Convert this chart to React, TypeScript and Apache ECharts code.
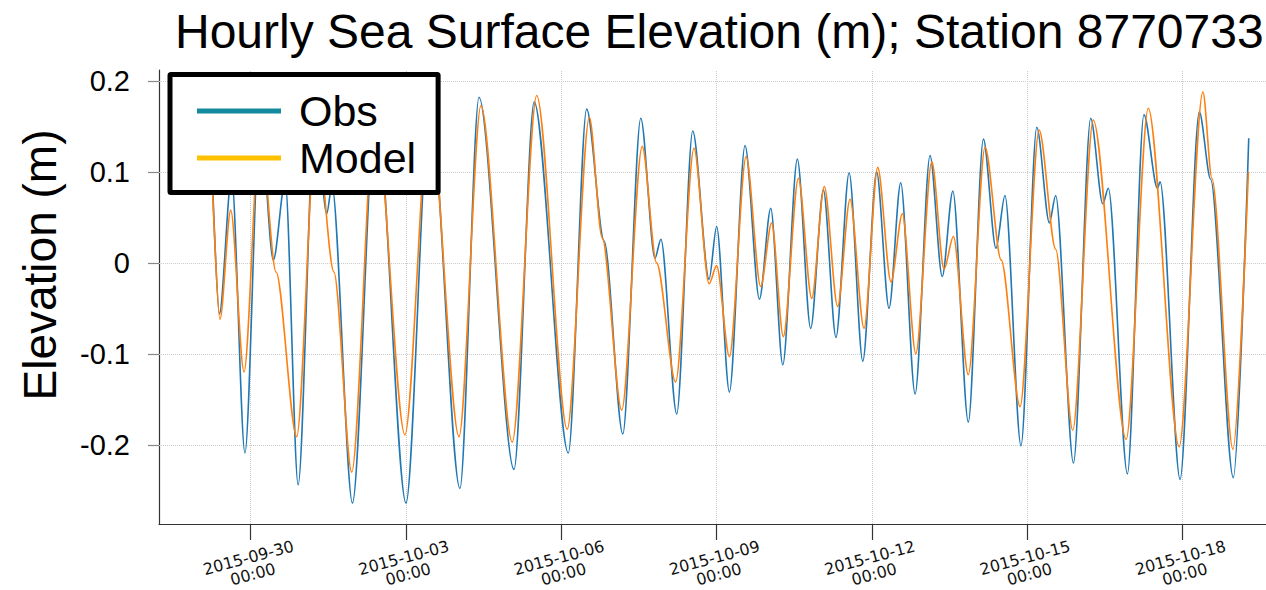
import React, { useEffect, useRef } from "react";
import * as echarts from "echarts";

const TITLE = "Hourly Sea Surface Elevation (m); Station 8770733";
const Y_NAME = "Elevation (m)";
const SERIES_NAMES = ["Obs", "Model"];

const obsTimes = [
  "09-29 05:50", "09-29 09:30", "09-29 15:10", "09-29 21:20", "09-30 04:20", "09-30 10:30",
  "09-30 16:00", "09-30 22:00", "10-01 05:50", "10-01 11:15", "10-01 13:40", "10-01 23:10",
  "10-02 10:05", "10-03 00:00", "10-03 11:05", "10-04 01:00", "10-04 09:50", "10-05 02:05",
  "10-05 11:25", "10-06 03:15", "10-06 11:45", "10-06 19:50", "10-07 04:30", "10-07 12:50",
  "10-07 19:25", "10-07 22:10", "10-08 05:30", "10-08 12:55", "10-08 20:30", "10-09 00:00",
  "10-09 05:55", "10-09 13:10", "10-09 19:50", "10-10 01:05", "10-10 06:40", "10-10 13:25",
  "10-10 19:35", "10-11 01:30", "10-11 07:20", "10-11 13:25", "10-11 19:45", "10-12 02:10",
  "10-12 07:55", "10-12 13:20", "10-12 20:00", "10-13 02:55", "10-13 08:35", "10-13 13:30",
  "10-13 20:40", "10-14 03:40", "10-14 09:30", "10-14 13:40", "10-14 21:05", "10-15 04:25",
  "10-15 10:15", "10-15 13:10", "10-15 21:25", "10-16 05:25", "10-16 11:00", "10-16 13:35",
  "10-16 22:25", "10-17 06:05", "10-17 12:20", "10-17 13:35", "10-17 22:50", "10-18 07:45",
  "10-18 13:00", "10-18 23:30", "10-19 06:40",
];
const obsValues = [
  0.12, -0.056, 0.095, -0.209, 0.16, 0.003,
  0.09, -0.244, 0.17, 0.054, 0.085, -0.264,
  0.18, -0.264, 0.18, -0.248, 0.182, -0.227,
  0.177, -0.209, 0.169, 0.024, -0.188, 0.159,
  0.005, 0.026, -0.166, 0.145, -0.018, 0.04,
  -0.142, 0.129, -0.04, 0.06, -0.112, 0.114,
  -0.072, 0.08, -0.082, 0.099, -0.108, 0.1,
  -0.05, 0.088, -0.144, 0.118, -0.015, 0.079,
  -0.175, 0.136, 0.016, 0.074, -0.201, 0.149,
  0.044, 0.074, -0.22, 0.159, 0.065, 0.082,
  -0.232, 0.163, 0.082, 0.089, -0.238, 0.166,
  0.092, -0.236, 0.137,
];

const modelTimes = [
  "09-29 05:50", "09-29 09:45", "09-29 14:45", "09-29 20:55", "09-30 04:20", "09-30 11:45",
  "09-30 21:20", "10-01 06:20", "10-01 14:35", "10-01 22:50", "10-02 09:40", "10-02 23:30",
  "10-03 10:55", "10-04 00:35", "10-04 10:45", "10-05 01:15", "10-05 12:35", "10-06 02:45",
  "10-06 13:00", "10-06 18:55", "10-07 04:00", "10-07 13:30", "10-07 20:10", "10-08 05:00",
  "10-08 13:30", "10-08 20:30", "10-09 00:00", "10-09 05:55", "10-09 13:40", "10-09 20:25",
  "10-10 01:30", "10-10 06:55", "10-10 13:55", "10-10 20:05", "10-11 01:55", "10-11 08:05",
  "10-11 13:50", "10-11 20:20", "10-12 02:40", "10-12 08:50", "10-12 14:05", "10-12 20:20",
  "10-13 03:45", "10-13 09:25", "10-13 13:45", "10-13 20:40", "10-14 04:25", "10-14 11:55",
  "10-14 20:40", "10-15 05:30", "10-15 13:10", "10-15 21:05", "10-16 06:35", "10-16 21:50",
  "10-17 08:05", "10-17 22:25", "10-18 09:25", "10-18 13:35", "10-18 23:20", "10-19 06:30",
];
const modelValues = [
  0.11, -0.062, 0.058, -0.12, 0.15, -0.01,
  -0.191, 0.15, -0.01, -0.23, 0.17, -0.189,
  0.17, -0.191, 0.173, -0.197, 0.184, -0.183,
  0.16, 0.028, -0.162, 0.128, 0.0, -0.131,
  0.126, -0.023, -0.003, -0.103, 0.117, -0.026,
  0.044, -0.081, 0.093, -0.039, 0.084, -0.048,
  0.07, -0.072, 0.105, -0.021, 0.054, -0.1,
  0.111, -0.007, 0.029, -0.123, 0.127, 0.003,
  -0.158, 0.146, 0.015, -0.184, 0.157, -0.194,
  0.17, -0.202, 0.188, 0.093, -0.205, 0.1,
];

const xTickTimes = ["09-30 00:00", "10-03 00:00", "10-06 00:00", "10-09 00:00", "10-12 00:00", "10-15 00:00", "10-18 00:00"];
const xRange = ["09-28 05:30", "10-19 14:40"];
const yTicks = [-0.2, -0.1, 0, 0.1, 0.2];
const yRange = [-0.287, 0.212];

const parseTime = (s: string): number => {
  const [md, hm] = s.split(" ");
  const [mo, d] = md.split("-").map(Number);
  const [h, m] = hm.split(":").map(Number);
  return Date.UTC(2015, mo - 1, d, h, m);
};
const pad = (n: number) => String(n).padStart(2, "0");
const fmtTime = (v: number) => {
  const d = new Date(v);
  return `${d.getUTCFullYear()}-${pad(d.getUTCMonth() + 1)}-${pad(d.getUTCDate())}\n${pad(d.getUTCHours())}:${pad(d.getUTCMinutes())}`;
};

export default function App() {
  const ref = useRef<HTMLDivElement>(null);
  useEffect(() => {
    document.body.style.margin = "0";
    document.body.style.overflow = "hidden";
    if (!ref.current) return;
    const chart = echarts.init(ref.current, null, { renderer: "svg" });
    const xTicks = xTickTimes.map(parseTime);
    const obsData = obsTimes.map((t, i) => [parseTime(t), obsValues[i]]);
    const modelData = modelTimes.map((t, i) => [parseTime(t), modelValues[i]]);
    const gridLines = [
      ...xTicks.map((t) => ({ xAxis: t })),
      ...yTicks.map((v) => ({ yAxis: v })),
    ];
    const option: any = {
      animation: false,
      backgroundColor: "#ffffff",
      title: {
        text: TITLE,
        left: 175,
        top: 7,
        padding: 0,
        textStyle: { fontFamily: "Liberation Sans", fontSize: 48, fontWeight: "normal", color: "#000" },
      },
      graphic: [
        {
          type: "text",
          x: 40,
          y: 265,
          rotation: Math.PI / 2,
          style: {
            text: Y_NAME,
            fontFamily: "Liberation Sans",
            fontSize: 46,
            fill: "#000",
            align: "center",
            verticalAlign: "middle",
          },
        },
      ],
      legend: {
        orient: "vertical",
        left: 170,
        top: 74.5,
        padding: [13, 22, 11, 27],
        itemGap: 0,
        itemWidth: 84,
        itemHeight: 5,
        icon: "rect",
        selectedMode: false,
        backgroundColor: "#ffffff",
        borderColor: "#000000",
        borderWidth: 5,
        borderRadius: 1,
        z: 10,
        textStyle: {
          fontFamily: "Liberation Sans",
          fontSize: 43,
          color: "#000",
          lineHeight: 47,
          padding: [0, 0, 0, 13],
        },
        data: [
          { name: SERIES_NAMES[0], itemStyle: { color: "#148a9e" } },
          { name: SERIES_NAMES[1], itemStyle: { color: "#ffc000" } },
        ],
      },
      grid: { left: 159, right: 0, top: 70, bottom: 66, outerBoundsMode: "none" },
      xAxis: {
        type: "value",
        min: parseTime(xRange[0]),
        max: parseTime(xRange[1]),
        axisLine: { show: true, onZero: false, lineStyle: { color: "#333", width: 1.2 } },
        axisTick: { show: true, length: 16, customValues: xTicks, lineStyle: { color: "#333", width: 1.2 } },
        axisLabel: {
          customValues: xTicks,
          formatter: (v: number) => fmtTime(v),
          rotate: 15,
          align: "center",
          verticalAlign: "middle",
          margin: 42,
          fontFamily: "DejaVu Sans",
          fontSize: 16,
          lineHeight: 17,
          color: "#111",
        },
        splitLine: { show: false },
      },
      yAxis: {
        type: "value",
        min: yRange[0],
        max: yRange[1],
        axisLine: { show: true, onZero: false, lineStyle: { color: "#333", width: 1.2 } },
        axisTick: { show: true, length: 11, customValues: yTicks, lineStyle: { color: "#888", width: 1.2 } },
        axisLabel: {
          customValues: yTicks,
          formatter: (v: number) => (Math.abs(v) < 1e-9 ? "0" : v.toFixed(1)),
          margin: 29,
          fontFamily: "Liberation Sans",
          fontSize: 29,
          color: "#000",
        },
        splitLine: { show: false },
      },
      series: [
        {
          name: SERIES_NAMES[0],
          type: "line",
          data: obsData,
          symbol: "none",
          showSymbol: false,
          smooth: 0.3,
          smoothMonotone: "x",
          lineStyle: { color: "#1f77b4", width: 1.6 },
          itemStyle: { color: "#1f77b4" },
          z: 2,
          markLine: {
            silent: true,
            z: 1,
            symbol: ["none", "none"],
            label: { show: false },
            lineStyle: { color: "#cccccc", type: "dotted", width: 1 },
            emphasis: { disabled: true },
            data: gridLines,
          },
        },
        {
          name: SERIES_NAMES[1],
          type: "line",
          data: modelData,
          symbol: "none",
          showSymbol: false,
          smooth: 0.3,
          smoothMonotone: "x",
          lineStyle: { color: "#ff7f0e", width: 1.6 },
          itemStyle: { color: "#ff7f0e" },
          z: 3,
        },
      ],
    };
    chart.setOption(option);
    return () => chart.dispose();
  }, []);
  return <div ref={ref} style={{ width: 1266, height: 590 }} />;
}
